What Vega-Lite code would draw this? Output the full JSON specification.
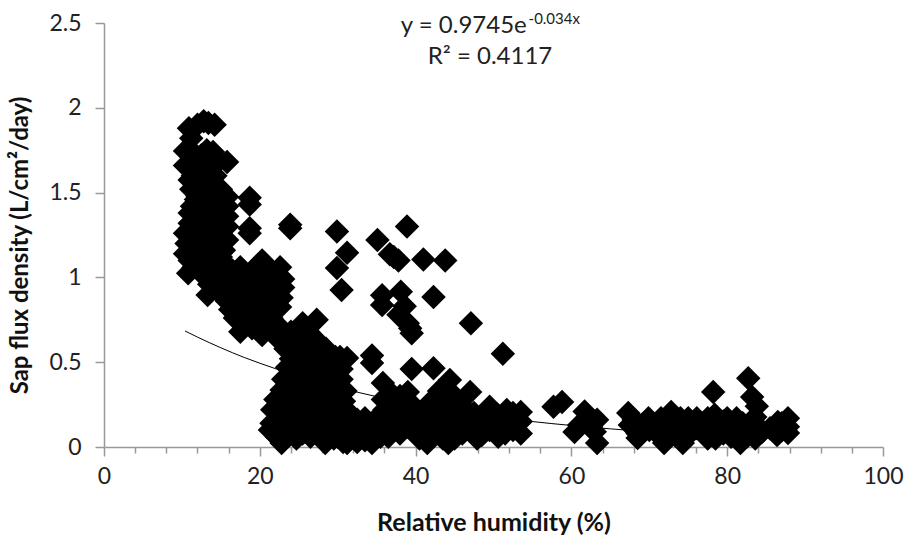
{"$schema":"https://vega.github.io/schema/vega-lite/v6.json","autosize":"none","padding":{"left":104,"top":23,"right":22,"bottom":91},"width":779,"height":424,"background":"white","config":{"view":{"stroke":null},"font":"Lato"},
"resolve":{"axis":{"x":"independent"}},
"datasets":{
"pts":[
{"x":10.9,"y":1.88},{"x":11.2,"y":1.82},{"x":12.8,"y":1.92},{"x":13.4,"y":1.91},{"x":14.2,"y":1.9},{"x":12,"y":1.9},{"x":10.4,"y":1.745},{"x":10.4,"y":1.66},{"x":11,"y":1.75},{"x":11.4,"y":1.6},{"x":11,"y":1.575},{"x":11.2,"y":1.52},{"x":12.5,"y":1.72},{"x":13.2,"y":1.75},{"x":14,"y":1.74},{"x":12.4,"y":1.62},{"x":13.2,"y":1.65},{"x":14.3,"y":1.6},{"x":15.8,"y":1.68},{"x":15,"y":1.52},{"x":15.8,"y":1.475},{"x":15.8,"y":1.42},{"x":15.8,"y":1.36},{"x":15.8,"y":1.3},{"x":15.8,"y":1.22},{"x":15.4,"y":1.16},{"x":13,"y":1.52},{"x":12,"y":1.48},{"x":11.3,"y":1.42},{"x":11,"y":1.38},{"x":12.2,"y":1.36},{"x":13.5,"y":1.42},{"x":14.2,"y":1.28},{"x":14.5,"y":1.2},{"x":12.8,"y":1.28},{"x":11.6,"y":1.28},{"x":10.4,"y":1.26},{"x":10.6,"y":1.2},{"x":10.4,"y":1.14},{"x":11.6,"y":1.16},{"x":12.8,"y":1.16},{"x":13.8,"y":1.1},{"x":10.8,"y":1.025},{"x":11.5,"y":1.06},{"x":12.6,"y":1.02},{"x":14,"y":1.0},{"x":13.3,"y":0.896},{"x":13.5,"y":0.96},{"x":15,"y":1.02},{"x":16.5,"y":1.04},{"x":17.5,"y":1.06},{"x":16,"y":0.94},{"x":17,"y":0.95},{"x":15.8,"y":0.86},{"x":16.2,"y":0.81},{"x":17,"y":0.88},{"x":17.5,"y":0.74},{"x":17.5,"y":0.68},{"x":18.5,"y":0.76},{"x":18.5,"y":1.0},{"x":18.5,"y":0.9},{"x":19.5,"y":0.96},{"x":19.5,"y":0.84},{"x":20.3,"y":1.1},{"x":20.3,"y":1.03},{"x":20.3,"y":0.92},{"x":20.3,"y":0.8},{"x":20.3,"y":0.72},{"x":20.3,"y":0.66},{"x":21.5,"y":1.04},{"x":21.5,"y":0.96},{"x":21.5,"y":0.86},{"x":21.5,"y":0.76},{"x":22.6,"y":1.06},{"x":23,"y":0.99},{"x":23,"y":0.94},{"x":22.8,"y":0.88},{"x":22.6,"y":0.825},{"x":22.3,"y":0.72},{"x":18.7,"y":1.47},{"x":18.7,"y":1.43},{"x":18.7,"y":1.29},{"x":18.7,"y":1.26},{"x":23.9,"y":1.31},{"x":23.9,"y":1.29},{"x":29.9,"y":1.27},{"x":31.2,"y":1.145},{"x":29.9,"y":1.055},{"x":30.5,"y":0.925},{"x":35.1,"y":1.22},{"x":38.9,"y":1.3},{"x":36.7,"y":1.137},{"x":37.2,"y":1.12},{"x":37.8,"y":1.1},{"x":41,"y":1.106},{"x":43.8,"y":1.1},{"x":35.7,"y":0.895},{"x":35.7,"y":0.837},{"x":38.1,"y":0.915},{"x":42.3,"y":0.885},{"x":38.6,"y":0.83},{"x":37.8,"y":0.78},{"x":39,"y":0.73},{"x":39.3,"y":0.7},{"x":39.5,"y":0.67},{"x":47.1,"y":0.73},{"x":51.2,"y":0.55},
{"x":25.5,"y":0.73},{"x":27.3,"y":0.75},{"x":26.2,"y":0.68},{"x":24,"y":0.68},{"x":24.2,"y":0.6},{"x":25.3,"y":0.58},{"x":27.3,"y":0.63},{"x":27.5,"y":0.56},{"x":26.5,"y":0.5},{"x":23.5,"y":0.47},{"x":25,"y":0.42},{"x":23,"y":0.4},{"x":22.8,"y":0.336},{"x":24,"y":0.34},{"x":26,"y":0.38},{"x":28,"y":0.45},{"x":29.7,"y":0.53},{"x":30.3,"y":0.53},{"x":31.2,"y":0.525},{"x":34.4,"y":0.54},{"x":34.4,"y":0.495},{"x":39.5,"y":0.46},{"x":42.3,"y":0.465},{"x":29,"y":0.4},{"x":30,"y":0.36},{"x":27.5,"y":0.36},{"x":28.5,"y":0.33},{"x":25.5,"y":0.3},{"x":27,"y":0.28},{"x":29,"y":0.27},{"x":30,"y":0.23},{"x":23.5,"y":0.27},{"x":21.6,"y":0.22},{"x":22.5,"y":0.2},{"x":24.5,"y":0.22},{"x":26,"y":0.2},{"x":28,"y":0.2},{"x":29.5,"y":0.17},{"x":31,"y":0.16},{"x":21.3,"y":0.1},{"x":21.5,"y":0.14},{"x":23,"y":0.12},{"x":24.5,"y":0.14},{"x":26,"y":0.12},{"x":27.5,"y":0.14},{"x":29,"y":0.1},{"x":30.5,"y":0.1},{"x":22.8,"y":0.024},{"x":24.7,"y":0.05},{"x":23.5,"y":0.07},{"x":26.5,"y":0.06},{"x":28.4,"y":0.024},{"x":29.5,"y":0.05},{"x":31.2,"y":0.024},{"x":30.7,"y":0.03},{"x":32,"y":0.07},{"x":33,"y":0.12},{"x":33.5,"y":0.17},{"x":34.4,"y":0.024},{"x":34.5,"y":0.09},{"x":35,"y":0.17},{"x":35.8,"y":0.12},{"x":36.5,"y":0.06},{"x":36,"y":0.22},{"x":35.8,"y":0.28},{"x":35.8,"y":0.377},{"x":36.8,"y":0.32},{"x":37.2,"y":0.17},{"x":37.5,"y":0.26},{"x":39,"y":0.325},{"x":39,"y":0.26},{"x":39,"y":0.2},{"x":39,"y":0.12},{"x":40.5,"y":0.05},{"x":41.5,"y":0.024},{"x":41,"y":0.12},{"x":41.5,"y":0.2},{"x":42,"y":0.27},{"x":43,"y":0.33},{"x":44.4,"y":0.395},{"x":43,"y":0.15},{"x":44.2,"y":0.024},{"x":44,"y":0.09},{"x":44.5,"y":0.22},{"x":45,"y":0.3},{"x":46,"y":0.24},{"x":46,"y":0.14},{"x":47,"y":0.325},{"x":47.9,"y":0.05},{"x":47.5,"y":0.2},{"x":48,"y":0.11},{"x":49.5,"y":0.237},{"x":49.5,"y":0.15},{"x":50.6,"y":0.06},{"x":51.7,"y":0.218},{"x":51.5,"y":0.14},{"x":52.5,"y":0.1},{"x":53.5,"y":0.206},{"x":53.5,"y":0.08},{"x":53.5,"y":0.15},
{"x":57.7,"y":0.237},{"x":58.8,"y":0.265},{"x":61.7,"y":0.21},{"x":63.3,"y":0.16},{"x":60.4,"y":0.088},{"x":63.3,"y":0.024},{"x":62.5,"y":0.12},{"x":61,"y":0.13},{"x":63,"y":0.09},
{"x":82.7,"y":0.405},{"x":83.2,"y":0.295},{"x":78.2,"y":0.325},{"x":67.3,"y":0.2},{"x":67.5,"y":0.13},{"x":68.5,"y":0.1},{"x":69.9,"y":0.17},{"x":70,"y":0.1},{"x":72.8,"y":0.206},{"x":72,"y":0.14},{"x":73.5,"y":0.12},{"x":74,"y":0.17},{"x":76.1,"y":0.17},{"x":76,"y":0.11},{"x":77,"y":0.08},{"x":78.4,"y":0.19},{"x":78.5,"y":0.13},{"x":79.5,"y":0.08},{"x":81.2,"y":0.17},{"x":81,"y":0.11},{"x":82.2,"y":0.09},{"x":83.6,"y":0.177},{"x":83.8,"y":0.24},{"x":84,"y":0.12},{"x":84.5,"y":0.09},{"x":86.5,"y":0.147},{"x":87.8,"y":0.17},{"x":87.8,"y":0.12},{"x":87.8,"y":0.083},{"x":86.4,"y":0.07},{"x":68.5,"y":0.053},{"x":71.9,"y":0.024},{"x":72.5,"y":0.06},{"x":74.3,"y":0.024},{"x":75,"y":0.07},{"x":77.5,"y":0.05},{"x":78.5,"y":0.05},{"x":80.5,"y":0.06},{"x":81.7,"y":0.024},{"x":83.6,"y":0.05},
{"x":11.8,"y":1.72},{"x":13.4,"y":1.68},{"x":14.6,"y":1.68},{"x":12,"y":1.55},{"x":13.4,"y":1.58},{"x":14.6,"y":1.5},{"x":11.8,"y":1.46},{"x":13,"y":1.45},{"x":14.3,"y":1.42},{"x":12.5,"y":1.42},{"x":15,"y":1.36},{"x":13.2,"y":1.34},{"x":14.8,"y":1.3},{"x":11,"y":1.32},{"x":11.3,"y":1.22},{"x":12.2,"y":1.22},{"x":13.5,"y":1.22},{"x":15,"y":1.12},{"x":12.3,"y":1.1},{"x":13.2,"y":1.08},{"x":11,"y":1.1},{"x":14.5,"y":1.06},{"x":15.5,"y":1.08},{"x":14.6,"y":0.95},{"x":15,"y":0.9},{"x":16.5,"y":0.88},{"x":17.5,"y":0.97},{"x":18,"y":0.82},{"x":19,"y":0.78},{"x":19,"y":0.7},{"x":18.8,"y":1.03},{"x":17.8,"y":0.8},{"x":16.8,"y":0.76},{"x":21,"y":0.7},{"x":21,"y":0.92},{"x":22,"y":0.9},{"x":22,"y":1.0},{"x":20.8,"y":1.0},{"x":19.8,"y":0.88},{"x":19,"y":0.92},{"x":22.3,"y":0.64},{"x":23.3,"y":0.58},
{"x":24.5,"y":0.66},{"x":26,"y":0.62},{"x":25,"y":0.52},{"x":26.3,"y":0.56},{"x":24,"y":0.52},{"x":27,"y":0.44},{"x":28,"y":0.5},{"x":28.5,"y":0.58},{"x":29,"y":0.46},{"x":24.5,"y":0.48},{"x":26,"y":0.44},{"x":24,"y":0.38},{"x":27,"y":0.33},{"x":28.2,"y":0.38},{"x":29.5,"y":0.44},{"x":30.5,"y":0.46},{"x":30.5,"y":0.4},{"x":31,"y":0.33},{"x":30.8,"y":0.27},
{"x":22,"y":0.28},{"x":22.5,"y":0.16},{"x":22.2,"y":0.06},{"x":24,"y":0.17},{"x":25,"y":0.26},{"x":25.5,"y":0.17},{"x":25.5,"y":0.08},{"x":27,"y":0.1},{"x":27,"y":0.18},{"x":27,"y":0.23},{"x":28.5,"y":0.24},{"x":28.5,"y":0.16},{"x":28.5,"y":0.08},{"x":30,"y":0.13},{"x":30,"y":0.06},{"x":31.2,"y":0.1},{"x":31.5,"y":0.2},{"x":32.5,"y":0.16},{"x":32.5,"y":0.03},{"x":33.5,"y":0.08},{"x":33.5,"y":0.04},{"x":34.5,"y":0.13},{"x":35.5,"y":0.06},{"x":36,"y":0.17},{"x":37,"y":0.1},{"x":36.5,"y":0.27},{"x":38,"y":0.08},{"x":38,"y":0.16},{"x":38,"y":0.22},{"x":38,"y":0.3},{"x":40,"y":0.08},{"x":40,"y":0.16},{"x":40,"y":0.23},{"x":42,"y":0.06},{"x":42.5,"y":0.12},{"x":42.5,"y":0.2},{"x":43,"y":0.26},{"x":43.5,"y":0.05},{"x":45,"y":0.05},{"x":45,"y":0.12},{"x":45,"y":0.18},{"x":46,"y":0.08},{"x":46.5,"y":0.18},{"x":47,"y":0.1},{"x":48.5,"y":0.07},{"x":48.5,"y":0.17},{"x":49.5,"y":0.1},{"x":50.5,"y":0.13},{"x":50.5,"y":0.19},{"x":51.5,"y":0.08},{"x":52.5,"y":0.17},{"x":52.5,"y":0.2},
{"x":68,"y":0.16},{"x":68.5,"y":0.08},{"x":69,"y":0.13},{"x":70.5,"y":0.12},{"x":71,"y":0.08},{"x":71.5,"y":0.17},{"x":73,"y":0.09},{"x":74.5,"y":0.1},{"x":74.5,"y":0.14},{"x":75,"y":0.17},{"x":76.5,"y":0.14},{"x":77,"y":0.12},{"x":77.5,"y":0.17},{"x":79,"y":0.1},{"x":79.5,"y":0.15},{"x":80,"y":0.13},{"x":80,"y":0.17},{"x":80.5,"y":0.09},{"x":82,"y":0.14},{"x":82.5,"y":0.06},{"x":83,"y":0.14},{"x":83.5,"y":0.09},{"x":85.5,"y":0.11},{"x":86,"y":0.1},{"x":87,"y":0.1},{"x":87,"y":0.14}
],
"trend":[{"x":10.4,"y":0.684},{"x":12,"y":0.648},{"x":15,"y":0.585},{"x":18,"y":0.528},{"x":20,"y":0.494},{"x":25,"y":0.417},{"x":30,"y":0.352},{"x":35,"y":0.297},{"x":40,"y":0.25},{"x":45,"y":0.211},{"x":50,"y":0.178},{"x":55,"y":0.15},{"x":60,"y":0.127},{"x":65,"y":0.107},{"x":70,"y":0.09},{"x":75,"y":0.076},{"x":80,"y":0.064},{"x":88,"y":0.049}],
"notes":[{"x":38.1,"y":2.482,"t":"y = 0.9745e"},{"x":49.55,"y":2.3,"t":"R² = 0.4117"}],
"sup":[{"x":54.5,"y":2.525,"t":"-0.034x"}]
},
"layer":[
{"data":{"name":"trend"},"mark":{"type":"line","color":"black","strokeWidth":1,"interpolate":"monotone"},"encoding":{
"x":{"field":"x","type":"quantitative","scale":{"domain":[0,100],"nice":false},"axis":{"orient":"bottom","title":"Relative humidity (%)","titleFont":"Lato","titleFontSize":25,"titleFontWeight":"bold","titleColor":"#111","titlePadding":22,"values":[0,20,40,60,80,100],"labelFontSize":23,"labelColor":"#222","labelPadding":9,"labelFont":"Lato","labelOverlap":false,"labelFlush":false,"labelBound":false,"domainColor":"#999","domainWidth":1.5,"tickColor":"#999","tickWidth":1.5,"tickSize":9,"grid":false}},
"y":{"field":"y","type":"quantitative","scale":{"domain":[0,2.5],"nice":false},"axis":{"title":"Sap flux density (L/cm²/day)","titleY":222,"titleFont":"Lato","titleFontSize":24,"titleFontWeight":"bold","titleColor":"#111","titlePadding":16,"values":[0,0.5,1,1.5,2,2.5],"format":"~g","labelFontSize":23,"labelColor":"#222","labelPadding":14,"labelFont":"Lato","labelOverlap":false,"labelFlush":false,"labelBound":false,"domainColor":"#999","domainWidth":1.5,"tickColor":"#999","tickWidth":1.5,"tickSize":9,"grid":false}}
}},
{"data":{"name":"pts"},"mark":{"type":"point","shape":"diamond","filled":true,"color":"black","size":600,"opacity":1,"clip":false},"encoding":{"x":{"field":"x","type":"quantitative","axis":{"orient":"bottom","title":null,"labels":false,"domain":false,"grid":false,"values":[4,8,12,16,24,28,32,36,44,48,52,56,64,68,72,76,84,88,92,96],"tickColor":"#999","tickWidth":1.5,"tickSize":6}},"y":{"field":"y","type":"quantitative"}}},
{"data":{"name":"notes"},"transform":[{"filter":"datum.x<40"}],"mark":{"type":"text","align":"left","baseline":"middle","fontSize":24,"font":"Lato","color":"#222"},"encoding":{"x":{"field":"x","type":"quantitative","axis":null},"y":{"field":"y","type":"quantitative"},"text":{"field":"t"}}},
{"data":{"name":"notes"},"transform":[{"filter":"datum.x>40"}],"mark":{"type":"text","align":"center","baseline":"middle","fontSize":24,"font":"Lato","color":"#222"},"encoding":{"x":{"field":"x","type":"quantitative","axis":null},"y":{"field":"y","type":"quantitative"},"text":{"field":"t"}}},
{"data":{"name":"sup"},"mark":{"type":"text","align":"left","baseline":"middle","fontSize":15,"font":"Lato","color":"#222"},"encoding":{"x":{"field":"x","type":"quantitative","axis":null},"y":{"field":"y","type":"quantitative"},"text":{"field":"t"}}}
]}
